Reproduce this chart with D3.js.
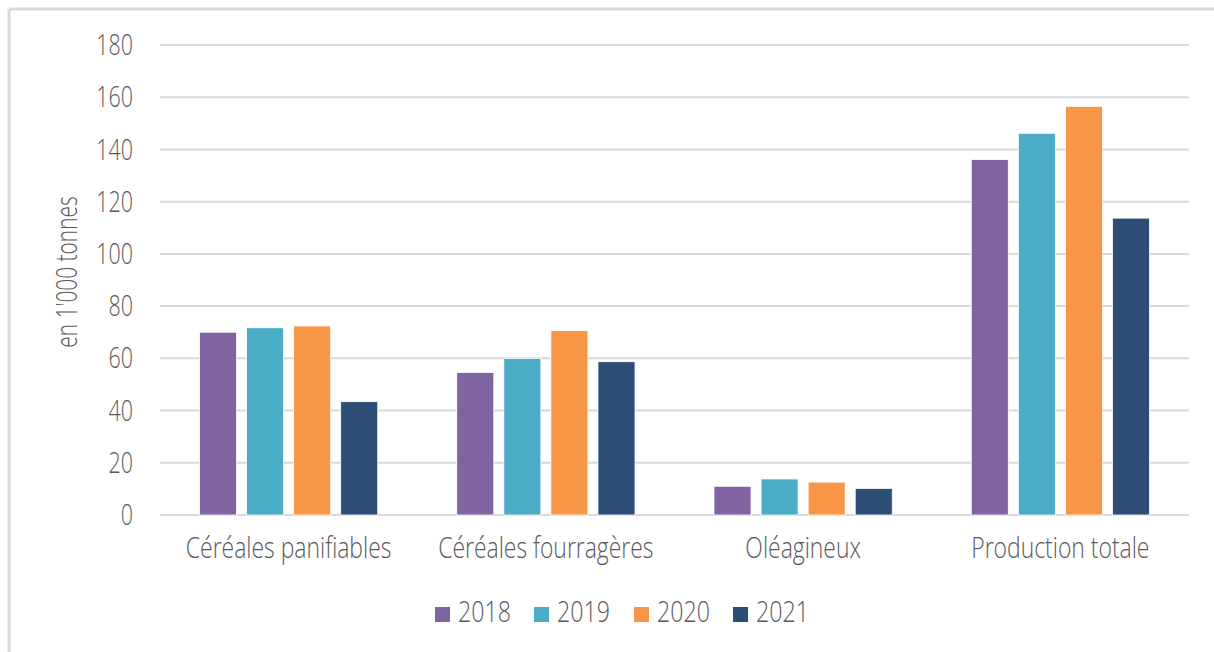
<!DOCTYPE html>
<html>
<head>
<meta charset="utf-8">
<script src="https://cdn.jsdelivr.net/npm/d3@7"></script>
<style>
  body { margin: 0; background: #fff; }
  svg text { font-family: "Open Sans", "Noto Sans", sans-serif; font-weight: 300; fill: #595959; font-size: 29px; }
</style>
</head>
<body>
<svg id="chart" width="1214" height="652"></svg>
<script>
// data
var categories = ["Céréales panifiables", "Céréales fourragères", "Oléagineux", "Production totale"];
var years = ["2018", "2019", "2020", "2021"];
var v2018 = [70.0, 54.6, 11.0, 136.1];
var v2019 = [71.7, 59.9, 13.8, 146.2];
var v2020 = [72.4, 70.6, 12.6, 156.5];
var v2021 = [43.4, 58.7, 10.2, 113.7];
var colours = ["#8064A2", "#4BACC6", "#F79646", "#2C4D75"];
var yTicks = [0, 20, 40, 60, 80, 100, 120, 140, 160, 180];

var series = [v2018, v2019, v2020, v2021];
var data = categories.map((c, i) => ({cat: c, values: years.map((y, j) => ({year: y, value: series[j][i]}))}));

var svg = d3.select("#chart"),
    margin = {top: 45, left: 160, right: 25, bottom: 137},
    width = +svg.attr("width"),
    height = +svg.attr("height");

// the text in the picture is narrow, squeeze it sideways
var sx = 0.79;

// frame (top + left only)
svg.append("line").attr("x1", 9).attr("x2", width).attr("y1", 9).attr("y2", 9)
  .attr("stroke", "#d9d9d9").attr("stroke-width", 3);
svg.append("line").attr("x1", 9).attr("x2", 9).attr("y1", 9).attr("y2", height)
  .attr("stroke", "#d9d9d9").attr("stroke-width", 3);

var x0 = d3.scaleBand()
  .domain(categories)
  .range([margin.left, width - margin.right])
  .paddingInner(0)
  .paddingOuter(0);

var x1 = d3.scaleBand()
  .domain(years)
  .range([39.5, x0.bandwidth() - 39.5])
  .paddingInner(0.213);

var y = d3.scaleLinear()
  .domain([0, 180])
  .range([height - margin.bottom, margin.top]);

// gridlines
svg.append("g")
  .selectAll("line")
  .data(yTicks)
  .join("line")
    .attr("x1", margin.left)
    .attr("x2", width - margin.right)
    .attr("y1", d => y(d))
    .attr("y2", d => y(d))
    .attr("stroke", "#d9d9d9")
    .attr("stroke-width", 2);

// y tick labels
svg.append("g")
  .selectAll("text")
  .data(yTicks)
  .join("text")
    .attr("transform", d => "translate(133," + y(d) + ") scale(0.74,1)")
    .attr("dy", "0.35em")
    .attr("text-anchor", "end")
    .text(d => d);

// axis title
svg.append("text")
  .attr("transform", "translate(77,272) rotate(-90) scale(0.72,1)")
  .attr("text-anchor", "middle")
  .text("en 1'000 tonnes");

// bars
var groups = svg.append("g")
  .selectAll("g")
  .data(data)
  .join("g")
    .attr("transform", d => "translate(" + x0(d.cat) + ",0)");

groups.selectAll("rect")
  .data(d => d.values)
  .join("rect")
    .attr("x", d => x1(d.year))
    .attr("y", d => y(d.value))
    .attr("width", x1.bandwidth())
    .attr("height", d => y(0) - y(d.value))
    .attr("fill", (d, i) => colours[i])
    .attr("stroke", "#fff")
    .attr("stroke-width", 0.8);

// category labels
svg.append("g")
  .selectAll("text")
  .data(categories)
  .join("text")
    .attr("transform", d => "translate(" + (x0(d) + x0.bandwidth() / 2) + ",558) scale(" + sx + ",1)")
    .attr("text-anchor", "middle")
    .text(d => d);

// legend
var legendX = [435, 534, 634, 733];
var legend = svg.append("g")
  .selectAll("g")
  .data(years)
  .join("g")
    .attr("transform", (d, i) => "translate(" + legendX[i] + ",607)");

legend.append("rect")
  .attr("width", 15).attr("height", 15)
  .attr("fill", (d, i) => colours[i]);

legend.append("text")
  .attr("transform", "translate(23,15) scale(0.8,1)")
  .text(d => d);
</script>
</body>
</html>
